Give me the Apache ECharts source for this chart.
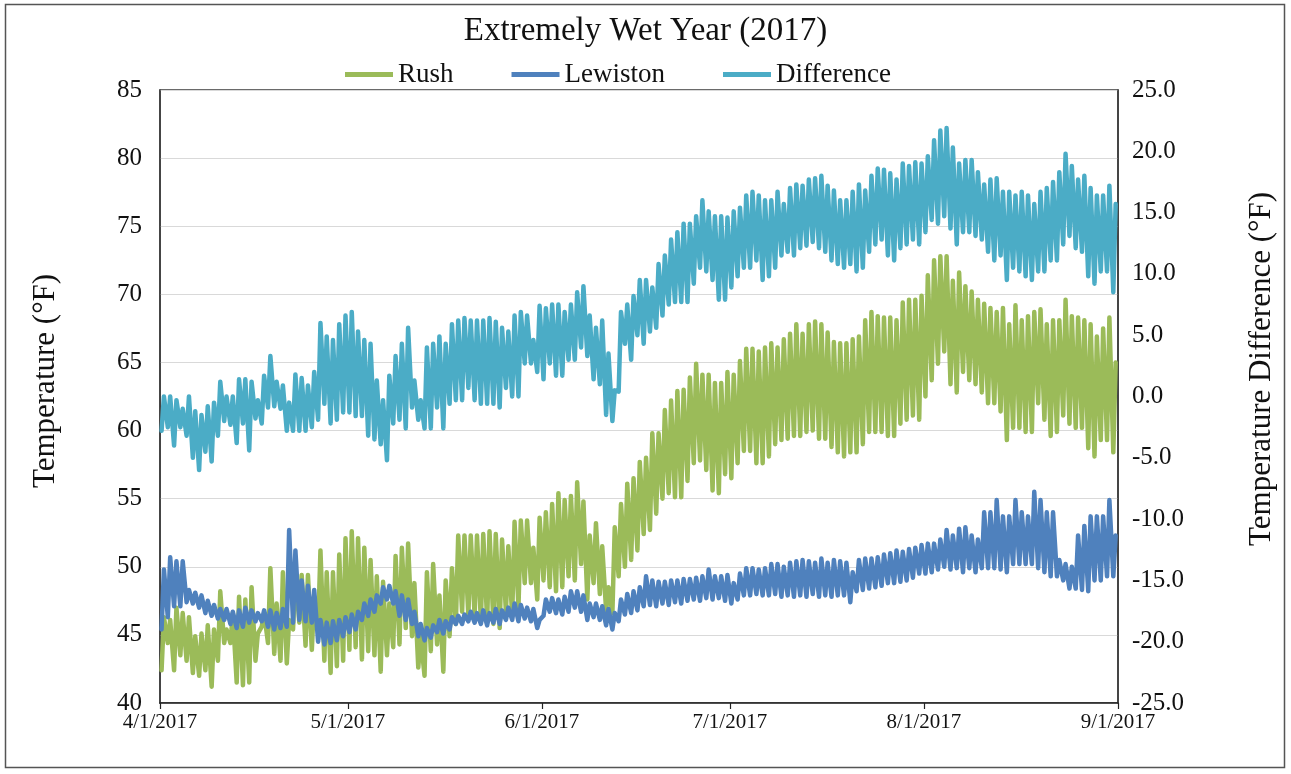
<!DOCTYPE html>
<html>
<head>
<meta charset="utf-8">
<title>Extremely Wet Year (2017)</title>
<script src="https://cdn.jsdelivr.net/npm/echarts@6/dist/echarts.min.js"></script>
<style>
  html, body { margin: 0; padding: 0; background: #ffffff; }
  #chart { width: 1291px; height: 774px; }
</style>
</head>
<body>
<div id="chart"></div>
<script>
// Daily low / high temperatures (°F), one entry per day from 4/1/2017 to 8/31/2017.
const rushLow = [
  42.4, 44.4, 42.4, 43.5, 43.1, 42.2, 42.0, 42.4, 41.2, 43.1,
  44.4, 44.4, 41.5, 41.3, 41.5, 43.1, 45.6, 44.4, 43.6, 43.1,
  42.9, 45.4, 45.9, 44.2, 43.9, 45.4, 43.1, 42.2, 42.7, 43.1,
  43.9, 44.1, 43.2, 43.8, 43.5, 42.3, 43.5, 44.1, 44.3, 45.5,
  44.9, 42.6, 42.0, 43.8, 44.3, 42.3, 44.9, 45.8, 46.7, 46.4,
  46.4, 46.0, 46.0, 45.8, 45.5, 46.7, 46.4, 47.0, 48.8, 48.8,
  47.6, 49.0, 48.5, 48.2, 48.5, 49.3, 49.0, 50.2, 47.6, 48.8,
  48.0, 46.8, 46.6, 49.3, 50.0, 50.5, 51.2, 52.4, 52.7, 53.9,
  55.0, 55.4, 55.1, 55.1, 56.3, 57.6, 57.8, 57.1, 55.6, 55.4,
  56.8, 56.5, 57.6, 58.5, 58.5, 57.6, 57.6, 58.1, 59.0, 59.3,
  59.4, 59.6, 59.6, 59.9, 60.0, 59.4, 59.4, 58.8, 58.4, 58.1,
  58.4, 58.4, 59.0, 59.9, 59.9, 59.9, 59.6, 59.6, 60.5, 60.8,
  61.1, 60.8, 62.5, 63.7, 64.9, 65.8, 63.4, 62.8, 64.3, 63.7,
  63.4, 62.8, 62.0, 62.0, 61.4, 59.3, 60.2, 60.2, 59.9, 59.9,
  62.0, 60.8, 59.6, 59.9, 61.1, 60.5, 60.2, 60.2, 58.7, 58.1,
  59.3, 59.3, 58.4
];
const rushHigh = [
  46.3, 46.1, 47.0, 46.6, 46.3, 44.9, 45.1, 45.7, 45.4, 48.2,
  45.4, 46.6, 47.8, 47.6, 48.5, 45.1, 46.6, 49.9, 47.3, 49.6,
  46.1, 49.6, 49.4, 49.4, 47.8, 51.2, 49.6, 49.6, 50.9, 52.1,
  52.6, 52.1, 51.4, 50.5, 49.3, 48.9, 47.3, 50.8, 51.4, 51.7,
  48.8, 44.9, 49.6, 50.2, 47.9, 49.0, 49.9, 52.3, 52.3, 52.3,
  52.3, 52.4, 52.6, 52.4, 52.0, 51.5, 53.3, 53.4, 53.4, 51.4,
  53.6, 54.0, 54.6, 55.4, 54.9, 55.2, 56.2, 54.8, 52.3, 53.2,
  51.5, 48.5, 52.9, 54.6, 56.1, 56.5, 57.7, 58.0, 59.8, 59.8,
  61.5, 62.2, 62.9, 63.0, 63.9, 64.9, 64.1, 64.1, 63.5, 63.5,
  64.3, 64.1, 65.1, 66.0, 66.0, 65.8, 66.1, 66.4, 66.1, 66.7,
  67.1, 67.8, 67.1, 67.8, 68.0, 67.8, 67.2, 66.5, 66.4, 66.4,
  66.7, 66.9, 68.1, 68.7, 68.4, 68.3, 68.3, 68.1, 69.4, 69.6,
  69.6, 69.9, 71.4, 72.5, 72.8, 72.8, 71.0, 71.6, 70.6, 70.2,
  69.6, 69.3, 69.0, 68.7, 69.0, 67.8, 69.2, 68.1, 68.4, 68.7,
  68.9, 67.8, 68.1, 68.1, 69.6, 68.4, 68.3, 68.1, 67.8, 66.9,
  67.5, 68.3, 65.0
];
const lewistonLow = [
  45.4, 46.3, 47.1, 47.1, 47.4, 47.3, 47.0, 46.6, 46.4, 46.2,
  46.1, 45.8, 45.5, 45.6, 45.9, 46.0, 46.0, 45.6, 45.4, 45.5,
  45.6, 45.9, 46.1, 46.0, 45.9, 44.5, 44.3, 44.4, 44.6, 44.9,
  45.2, 45.4, 46.1, 46.4, 46.7, 47.3, 47.6, 47.3, 46.4, 46.1,
  45.8, 44.9, 44.6, 44.8, 45.2, 45.1, 45.4, 45.8, 45.8, 46.0,
  45.9, 45.8, 45.7, 45.9, 45.8, 46.1, 46.1, 46.0, 46.2, 46.0,
  45.5, 46.4, 46.7, 46.6, 46.5, 46.7, 47.0, 46.7, 46.1, 46.3,
  46.1, 45.7, 45.4, 46.0, 46.5, 46.6, 46.8, 47.1, 47.2, 47.1,
  47.3, 47.2, 47.4, 47.3, 47.5, 47.6, 47.5, 47.7, 47.6, 47.7,
  47.5, 47.3, 47.6, 47.9, 47.9, 48.0, 47.9, 47.9, 48.0, 47.8,
  47.9, 47.8, 47.9, 47.8, 48.0, 47.8, 47.9, 47.8, 47.9, 47.9,
  47.4, 48.2, 48.3, 48.4, 48.5, 48.6, 48.8, 48.8, 48.9, 49.0,
  49.2, 49.5, 49.5, 49.6, 49.8, 50.0, 49.8, 49.9, 49.6, 49.9,
  49.6, 49.9, 49.9, 49.9, 49.8, 49.6, 50.2, 50.2, 50.2, 50.2,
  49.9, 49.6, 49.3, 49.3, 49.0, 48.4, 48.4, 48.3, 48.2, 49.0,
  49.0, 49.3, 49.3
];
const lewistonHigh = [
  49.8, 50.7, 50.4, 50.4, 48.3, 48.1, 47.9, 47.5, 47.2, 46.9,
  46.9, 46.7, 46.8, 47.0, 46.8, 46.6, 46.8, 46.8, 46.6, 46.9,
  52.7, 51.2, 49.0, 48.6, 48.3, 46.1, 45.9, 46.0, 46.1, 46.3,
  46.5, 46.7, 47.3, 47.6, 47.9, 48.5, 48.6, 48.2, 47.9, 47.6,
  46.7, 45.8, 45.5, 45.7, 46.1, 46.0, 46.3, 46.4, 46.5, 46.7,
  46.6, 46.8, 46.6, 46.9, 46.8, 47.0, 47.3, 47.2, 47.0, 46.9,
  46.1, 47.6, 47.7, 47.6, 47.8, 48.2, 48.2, 47.9, 47.3, 47.3,
  47.1, 46.9, 46.6, 47.6, 48.0, 48.2, 48.5, 49.3, 49.0, 48.9,
  48.9, 49.0, 49.0, 49.1, 49.1, 49.2, 49.3, 49.8, 49.3, 49.3,
  49.4, 48.8, 49.5, 49.9, 49.9, 49.8, 49.9, 50.2, 50.2, 50.0,
  50.3, 50.4, 50.5, 50.4, 50.3, 50.6, 50.3, 50.5, 50.4, 50.3,
  49.6, 50.5, 50.6, 50.6, 50.7, 50.9, 51.0, 51.2, 51.1, 51.3,
  51.4, 51.6, 51.7, 51.7, 52.0, 52.7, 52.3, 52.8, 52.9, 52.3,
  52.0, 54.0, 54.0, 54.9, 53.7, 53.7, 54.9, 54.0, 53.7, 55.5,
  54.9, 54.0, 54.0, 50.5, 50.2, 50.0, 52.3, 53.0, 53.7, 53.7,
  53.7, 54.9, 52.3
];
// Daily low / high of Rush minus Lewiston (°F), right-hand axis.
const differenceLow = [
  -2.8, -2.5, -4.0, -2.5, -3.2, -5.0, -6.0, -4.5, -5.3, -3.2,
  -2.0, -2.3, -3.8, -2.2, -4.4, -1.8, -2.2, -0.9, -0.8, -1.0,
  -2.8, -2.8, -2.8, -2.8, -2.5, -1.9, -0.6, -2.2, -1.9, -1.3,
  -1.3, -1.6, -1.6, -3.2, -3.5, -3.9, -5.2, -2.2, -1.9, -2.6,
  -0.9, -1.9, -2.6, -2.6, -0.9, -2.6, -0.6, -0.3, -0.3, 0.7,
  -0.3, -0.6, -0.6, -0.6, -0.9, 0.7, 0.0, 0.0, 2.7, 2.7,
  2.0, 1.4, 2.7, 1.7, 1.7, 3.0, 3.0, 4.0, 3.3, 1.4,
  1.0, -1.5, -2.0, 0.4, 4.3, 3.0, 5.0, 4.3, 5.3, 5.6,
  6.6, 7.5, 7.7, 7.7, 7.7, 9.2, 10.5, 10.2, 9.5, 7.9,
  7.9, 8.9, 9.8, 10.5, 10.5, 11.1, 9.5, 9.8, 10.5, 11.5,
  11.8, 11.5, 12.1, 12.3, 12.6, 12.1, 11.8, 11.1, 10.8, 10.5,
  10.8, 10.2, 10.5, 11.8, 12.4, 12.8, 11.5, 11.1, 12.1, 12.4,
  12.8, 12.4, 13.4, 14.4, 14.1, 14.7, 13.7, 12.4, 13.4, 13.4,
  13.1, 12.8, 11.8, 11.1, 11.5, 9.5, 10.5, 10.2, 9.8, 9.5,
  10.2, 10.2, 11.1, 11.1, 12.4, 13.1, 12.1, 11.8, 9.8, 9.2,
  10.2, 10.2, 8.5
];
const differenceHigh = [
  0.0, 0.0, -0.3, -1.0, 0.0, -1.2, -1.5, -0.8, -0.5, 1.2,
  0.0, 0.0, 1.4, 1.4, 1.2, -0.3, 1.7, 3.3, 1.2, 0.9,
  -0.5, 1.8, 1.5, 0.9, 2.0, 6.0, 4.9, 4.6, 5.9, 6.6,
  6.9, 5.3, 4.6, 4.3, 1.3, -0.3, 1.7, 3.3, 4.3, 5.6,
  1.3, -0.3, 4.0, 4.3, 4.9, 4.3, 5.9, 6.2, 6.4, 6.2,
  6.2, 6.2, 6.4, 6.1, 5.6, 5.3, 6.6, 6.9, 6.6, 4.6,
  7.4, 7.2, 7.5, 7.5, 6.9, 7.5, 8.5, 9.0, 6.6, 5.6,
  6.2, 3.5, 0.5, 6.9, 7.5, 8.2, 9.5, 9.5, 8.9, 10.8,
  11.5, 12.8, 13.4, 14.1, 14.1, 14.7, 16.0, 15.1, 14.7, 14.7,
  14.6, 15.1, 15.4, 16.4, 16.7, 16.4, 16.0, 16.0, 16.7, 15.7,
  17.0, 17.3, 17.2, 17.7, 17.8, 18.0, 17.2, 16.8, 16.0, 16.0,
  16.7, 17.3, 16.8, 18.0, 18.6, 18.5, 18.2, 17.7, 19.0, 18.8,
  19.1, 19.0, 19.6, 20.9, 21.7, 21.9, 20.3, 19.0, 19.3, 19.3,
  18.3, 17.3, 17.7, 17.8, 16.7, 16.7, 16.4, 16.7, 16.4, 15.7,
  16.7, 17.0, 17.5, 18.3, 19.8, 18.8, 17.7, 18.0, 17.0, 16.4,
  16.4, 17.2, 15.7
];
// Axis ticks and labels
const leftTicks = { min: 40, max: 85, step: 5 };
const rightTicks = { min: -25, max: 25, step: 5 };
const monthStarts = [[2017, 3], [2017, 4], [2017, 5], [2017, 6], [2017, 7], [2017, 8]];
const seriesNames = ['Rush', 'Lewiston', 'Difference'];
const seriesColors = ['#9BBB59', '#4F81BD', '#4BACC6'];
const leftTitle = 'Temperature (°F)';
const rightTitle = 'Temperature Difference (°F)';

// The horizontal axis counts days since the first of the first month.
const DAY = 86400000;
const origin = Date.UTC(monthStarts[0][0], monthStarts[0][1], 1);
const monthOffsets = monthStarts.map(([y, m]) => Math.round((Date.UTC(y, m, 1) - origin) / DAY));

// Each day contributes its morning low and afternoon high, giving the daily swing.
function dailyCycle(lows, highs) {
  const pts = [];
  for (let i = 0; i < lows.length; i++) {
    pts.push([i + 0.25, lows[i]]);
    pts.push([i + 0.625, highs[i]]);
  }
  return pts;
}

function dayLabel(v) {
  const d = new Date(origin + Math.round(v) * DAY);
  return (d.getUTCMonth() + 1) + '/' + d.getUTCDate() + '/' + d.getUTCFullYear();
}

const FONT = '"Liberation Serif", "Times New Roman", serif';
const chart = echarts.init(document.getElementById('chart'), null, { renderer: 'canvas' });

function lineSeries(idx, data, yAxisIndex) {
  return {
    name: seriesNames[idx],
    type: 'line',
    yAxisIndex: yAxisIndex,
    data: data,
    showSymbol: false,
    symbol: 'none',
    smooth: false,
    color: seriesColors[idx],
    lineStyle: { width: 4.5, color: seriesColors[idx], cap: 'round', join: 'round' },
    emphasis: { disabled: true },
    z: 2 + idx
  };
}

chart.setOption({
  animation: false,
  backgroundColor: '#ffffff',
  title: {
    text: 'Extremely Wet Year (2017)',
    left: 'center',
    top: 10,
    textStyle: { fontFamily: FONT, fontSize: 33, fontWeight: 'normal', color: '#111111' }
  },
  legend: {
    data: seriesNames,
    top: 56,
    left: 340,
    icon: 'rect',
    itemWidth: 48,
    itemHeight: 5,
    itemGap: 58,
    textStyle: { fontFamily: FONT, fontSize: 27, color: '#111111' }
  },
  grid: {
    left: 160,
    top: 90,
    width: 958,
    height: 613,
    show: true,
    borderColor: '#3a3a3a',
    borderWidth: 1.5,
    containLabel: false
  },
  xAxis: {
    type: 'value',
    min: monthOffsets[0],
    max: monthOffsets[monthOffsets.length - 1],
    axisLine: { show: true, onZero: false, lineStyle: { color: '#222222', width: 1.5 } },
    axisTick: { show: true, customValues: monthOffsets, length: 6, lineStyle: { color: '#222222', width: 1.2 } },
    axisLabel: {
      customValues: monthOffsets,
      showMinLabel: true,
      showMaxLabel: true,
      margin: 9,
      fontFamily: FONT,
      fontSize: 21,
      color: '#111111',
      formatter: dayLabel
    },
    splitLine: { show: false }
  },
  yAxis: [
    {
      type: 'value',
      position: 'left',
      min: leftTicks.min,
      max: leftTicks.max,
      interval: leftTicks.step,
      axisLine: { show: true, lineStyle: { color: '#3a3a3a', width: 1.5 } },
      axisTick: { show: false },
      axisLabel: { margin: 18, fontFamily: FONT, fontSize: 25, color: '#111111' },
      splitLine: { show: true, lineStyle: { color: '#d9d9d9', width: 1 } }
    },
    {
      type: 'value',
      position: 'right',
      min: rightTicks.min,
      max: rightTicks.max,
      interval: rightTicks.step,
      axisLine: { show: true, lineStyle: { color: '#3a3a3a', width: 1.5 } },
      axisTick: { show: false },
      axisLabel: {
        margin: 14,
        fontFamily: FONT,
        fontSize: 25,
        color: '#111111',
        formatter: function (v) { return v.toFixed(1); }
      },
      splitLine: { show: false }
    }
  ],
  series: [
    lineSeries(0, dailyCycle(rushLow, rushHigh), 0),
    lineSeries(1, dailyCycle(lewistonLow, lewistonHigh), 0),
    lineSeries(2, dailyCycle(differenceLow, differenceHigh), 1)
  ],
  graphic: [
    {
      type: 'rect',
      silent: true,
      shape: { x: 5.5, y: 4.5, width: 1279, height: 763 },
      style: { fill: null, stroke: '#555555', lineWidth: 1.5 },
      z: 100
    },
    {
      type: 'text',
      silent: true,
      x: 46,
      y: 381,
      rotation: Math.PI / 2,
      style: {
        text: leftTitle,
        fontFamily: FONT,
        fontSize: 31,
        fill: '#111111',
        align: 'center',
        verticalAlign: 'middle'
      }
    },
    {
      type: 'text',
      silent: true,
      x: 1262,
      y: 369,
      rotation: Math.PI / 2,
      style: {
        text: rightTitle,
        fontFamily: FONT,
        fontSize: 31,
        fill: '#111111',
        align: 'center',
        verticalAlign: 'middle'
      }
    }
  ]
});
</script>
</body>
</html>
